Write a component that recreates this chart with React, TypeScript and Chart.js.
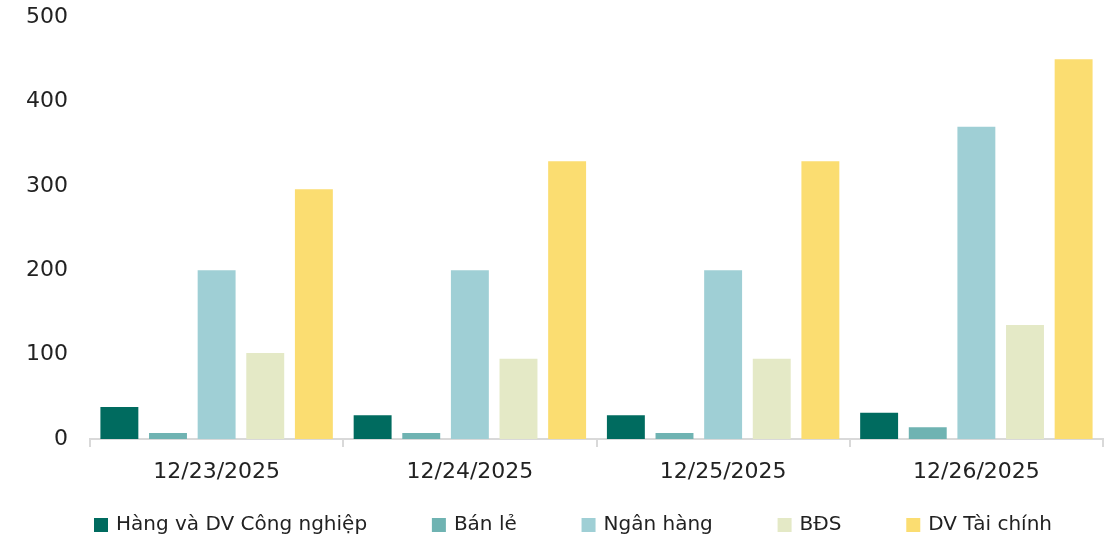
import React, { useEffect, useRef } from "react";
import { Chart, registerables } from "chart.js";

Chart.register(...registerables);

const categories = ["12/23/2025", "12/24/2025", "12/25/2025", "12/26/2025"];
const seriesNames = ["Hàng và DV Công nghiệp", "Bán lẻ", "Ngân hàng", "BĐS", "DV Tài chính"];
const industrial = [38, 28, 28, 31];
const retail = [7, 7, 7, 14];
const banking = [200, 200, 200, 370];
const realEstate = [102, 95, 95, 135];
const financial = [296, 329, 329, 450];
const seriesColors = ["#006B5F", "#6FB3B2", "#9FCFD5", "#E4E9C6", "#FBDD71"];
const yTicks = [0, 100, 200, 300, 400, 500];

const FONT = "'DejaVu Sans', sans-serif";

const customLegend = {
  id: "customLegend",
  afterDraw(chart: any) {
    const ctx = chart.ctx;
    ctx.save();
    ctx.font = `20px ${FONT}`;
    ctx.textBaseline = "middle";
    const box = 14;
    const gapText = 8;
    const widths = chart.data.datasets.map(
      (d: any) => box + gapText + ctx.measureText(d.label).width
    );
    const startX = 94;
    const endX = 1052;
    const total = widths.reduce((a: number, b: number) => a + b, 0);
    const gap = (endX - startX - total) / (widths.length - 1);
    const cy = 525;
    let x = startX;
    chart.data.datasets.forEach((d: any, i: number) => {
      ctx.fillStyle = d.backgroundColor;
      ctx.fillRect(x, cy - box / 2, box, box);
      ctx.fillStyle = "#222222";
      ctx.fillText(d.label, x + box + gapText, cy);
      x += widths[i] + gap;
    });
    ctx.restore();
  },
};

export default function App() {
  const ref = useRef<HTMLCanvasElement | null>(null);
  useEffect(() => {
    if (!ref.current) return;
    const values = [industrial, retail, banking, realEstate, financial];
    const chart = new Chart(ref.current, {
      type: "bar",
      data: {
        labels: categories,
        datasets: seriesNames.map((name, i) => ({
          label: name,
          data: values[i],
          backgroundColor: seriesColors[i],
          borderWidth: 0,
          categoryPercentage: 0.96,
          barPercentage: 0.78,
        })),
      },
      options: {
        animation: false,
        responsive: false,
        maintainAspectRatio: false,
        layout: { padding: { left: 0, right: 9, top: 17, bottom: 40 } },
        plugins: {
          legend: { display: false },
          tooltip: { enabled: false },
          title: { display: false },
        },
        scales: {
          x: {
            grid: {
              display: true,
              drawOnChartArea: false,
              drawTicks: true,
              tickLength: 8,
              offset: true,
              color: "#d9d9d9",
              lineWidth: 2,
            },
            border: { display: true, color: "#d9d9d9", width: 2 },
            ticks: {
              color: "#222222",
              font: { family: FONT, size: 22 },
              padding: 12,
              maxRotation: 0,
            },
            afterFit(scale: any) {
              scale.height = 62;
              scale.paddingLeft = 0;
              scale.paddingRight = 0;
            },
          },
          y: {
            min: 0,
            max: 500,
            afterBuildTicks(scale: any) {
              scale.ticks = yTicks.map((v) => ({ value: v }));
            },
            grid: { display: false, drawTicks: false },
            border: { display: false },
            ticks: {
              color: "#222222",
              font: { family: FONT, size: 22 },
              padding: 22,
            },
            afterFit(scale: any) {
              scale.width = 90;
              scale.paddingTop = 0;
              scale.paddingBottom = 0;
            },
          },
        },
      },
      plugins: [customLegend],
    });
    return () => chart.destroy();
  }, []);
  return (
    <div style={{ position: "absolute", left: 0, top: 0, width: 1112, height: 541, background: "#fff" }}>
      <canvas ref={ref} width={1112} height={541} style={{ width: 1112, height: 541, display: "block" }} />
    </div>
  );
}
